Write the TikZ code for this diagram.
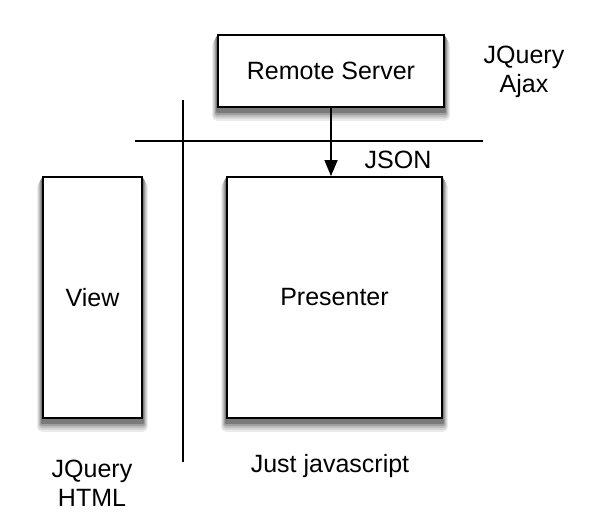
\documentclass[tikz,border=0pt]{standalone}
\usepackage{fontspec}
\setmainfont{Liberation Sans}
\usetikzlibrary{calc,arrows.meta}
\pgfdeclarelayer{shadowlayer}
\pgfsetlayers{shadowlayer,main}
\newcommand{\softshade}[1]{%
  \begin{pgfonlayer}{shadowlayer}
    \fill[black!8,rounded corners=5pt] ($(#1.north west)+(-5,6)$) rectangle ($(#1.south east)+(5,13)$);
    \fill[black!16,rounded corners=4pt] ($(#1.north west)+(-4,5)$) rectangle ($(#1.south east)+(4,11)$);
    \fill[black!26,rounded corners=3pt] ($(#1.north west)+(-3,4)$) rectangle ($(#1.south east)+(3,9)$);
    \fill[black!38,rounded corners=2pt] ($(#1.north west)+(-2,3)$) rectangle ($(#1.south east)+(2,7)$);
    \fill[black!52,rounded corners=1pt] ($(#1.north west)+(-1,2)$) rectangle ($(#1.south east)+(1,5)$);
  \end{pgfonlayer}}
\begin{document}
\begin{tikzpicture}[x=1pt,y=-1pt,
  box/.style={draw=black,line width=1.8pt,fill=white,inner sep=0pt},
  lbl/.style={font=\fontsize{25}{29}\selectfont,align=center,inner sep=0pt},
  sep/.style={line width=1.4pt}]
\useasboundingbox (0,0) rectangle (594,531);
\node[box,minimum width=226pt,minimum height=72pt,lbl] (rs) at (331,71) {Remote Server};
\node[box,minimum width=99pt,minimum height=241pt,lbl] (view) at (92.5,297.5) {View};
\node[box,minimum width=215pt,minimum height=241pt,lbl] (pres) at (334.5,297.5) {Presenter};
\softshade{rs}
\softshade{view}
\softshade{pres}
\coordinate (hl) at (135,141);
\coordinate (hr) at (483,141);
\coordinate (vt) at (183,100);
\coordinate (vb) at (183,462);
\draw[sep] (hl) -- (hr);
\draw[sep] (vt) -- (vb);
\draw[line width=1.5pt,-{Triangle[length=16pt,width=13pt]}] (rs.south) -- (rs.south |- pres.north);
\node[lbl] (json) at (398,160) {JSON};
\node[lbl] (ajax) at (524,72) {JQuery\\Ajax};
\node[lbl] (html) at (92,483) {JQuery\\HTML};
\node[lbl] (js) at (330,466) {Just javascript};
\end{tikzpicture}
\end{document}
